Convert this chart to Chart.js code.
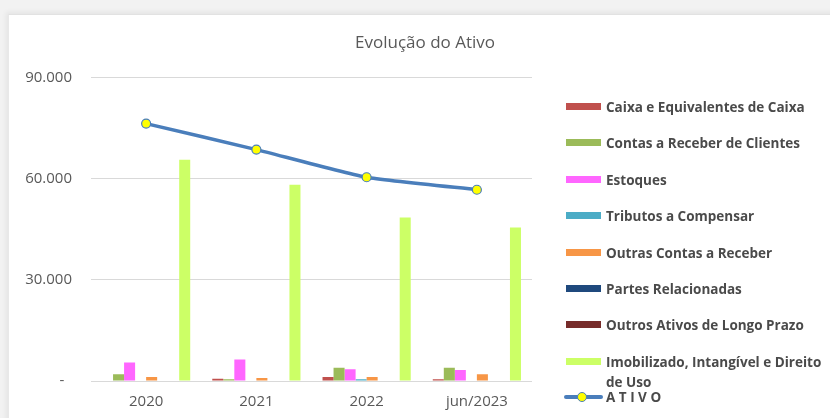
<!DOCTYPE html>
<html>
<head>
<meta charset="utf-8">
<title>Evolução do Ativo</title>
<script src="https://cdn.jsdelivr.net/npm/chart.js@4.4.0/dist/chart.umd.min.js"></script>
<style>
  html, body { margin: 0; padding: 0; }
  body {
    width: 830px; height: 418px; overflow: hidden; position: relative;
    background: #f2f2f2; font-family: "Open Sans", sans-serif;
  }
  #moldura {
    position: absolute; left: 8px; top: 14px; width: 840px; height: 420px;
    background: #fff; border-top: 1px solid #e2e2e2; border-left: 1px solid #e8e8e8;
    box-shadow: -2px -2px 5px rgba(0,0,0,0.06);
  }
  #area { position: absolute; left: 0; top: 0; width: 830px; height: 418px; }
  #legenda { position: absolute; left: 0; top: 0; }
  .item {
    position: absolute; left: 566px; height: 20px; white-space: nowrap;
    font-size: 13.5px; font-weight: 700; color: #4a4a4a; line-height: 20px;
  }
  .caixa { position: absolute; left: 0; top: 6px; width: 35px; height: 7px; }
  .texto { position: absolute; left: 40px; top: 0; }
  .linha { position: absolute; left: -2px; top: 8px; width: 39px; height: 4px; background: #4a7ebb; border-radius: 2px; }
  .ponto { position: absolute; left: 11px; top: 5px; width: 8px; height: 8px; border-radius: 50%; background: #ffff00; border: 1px solid #4a7ebb; }
</style>
</head>
<body>
<div id="moldura"></div>
<div id="area"><canvas id="grafico" width="830" height="418"></canvas></div>
<div id="legenda"></div>
<script>
var periodos = ['2020', '2021', '2022', 'jun/2023'];

var caixaEquivalentes = [0, 700, 1200, 500];
var contasReceberClientes = [2000, 500, 3900, 3900];
var estoques = [5450, 6400, 3450, 3250];
var tributosCompensar = [0, 0, 500, 0];
var outrasContasReceber = [1200, 900, 1200, 2000];
var partesRelacionadas = [0, 0, 0, 0];
var outrosAtivosLP = [0, 0, 0, 0];
var imobilizado = [65600, 58200, 48500, 45500];
var ativoTotal = [76300, 68600, 60400, 56700];

var yTicks = [0, 30000, 60000, 90000];

var series = [
    { nome: 'Caixa e Equivalentes de Caixa', dados: caixaEquivalentes, cor: '#c0504d' },
    { nome: 'Contas a Receber de Clientes', dados: contasReceberClientes, cor: '#9bbb59' },
    { nome: 'Estoques', dados: estoques, cor: '#ff66ff' },
    { nome: 'Tributos a Compensar', dados: tributosCompensar, cor: '#4bacc6' },
    { nome: 'Outras Contas a Receber', dados: outrasContasReceber, cor: '#f79646' },
    { nome: 'Partes Relacionadas', dados: partesRelacionadas, cor: '#1f497d' },
    { nome: 'Outros Ativos de Longo Prazo', dados: outrosAtivosLP, cor: '#772c2a' },
    { nome: 'Imobilizado, Intangível e Direito de Uso', dados: imobilizado, cor: '#ccff66' }
];

var corTexto = '#595959';
var fonteEixo = { family: '"Open Sans", sans-serif', size: 15 };

var datasets = series.map(function (s) {
    return {
        type: 'bar',
        label: s.nome,
        data: s.dados,
        backgroundColor: s.cor,
        categoryPercentage: 0.8,
        barPercentage: 1.0,
        order: 1
    };
});
datasets.push({
    type: 'line',
    label: 'A T I V O',
    data: ativoTotal,
    borderColor: '#4a7ebb',
    borderWidth: 3.5,
    tension: 0.15,
    pointRadius: 4.5,
    pointBackgroundColor: '#ffff00',
    pointBorderColor: '#4a7ebb',
    pointBorderWidth: 1.2,
    order: 0
});

var ctx = document.getElementById('grafico');
var grafico = new Chart(ctx, {
    type: 'bar',
    data: { labels: periodos, datasets: datasets },
    options: {
        responsive: false,
        animation: false,
        layout: { padding: { left: 20, top: 14, right: 0, bottom: 0 } },
        plugins: {
            legend: { display: false },
            tooltip: { enabled: false },
            title: {
                display: true,
                text: 'Evolução do Ativo',
                color: corTexto,
                font: { family: '"Open Sans", sans-serif', size: 17, weight: 'normal' },
                padding: { top: 19, bottom: 24 }
            }
        },
        scales: {
            x: {
                grid: { display: false },
                border: { display: false },
                ticks: { color: corTexto, font: fonteEixo, padding: 4, maxRotation: 0 },
                afterFit: function (s) { s.height = 37; }
            },
            y: {
                min: 0,
                max: 90000,
                afterBuildTicks: function (s) {
                    s.ticks = yTicks.map(function (v) { return { value: v }; });
                },
                grid: { color: '#d9d9d9', lineWidth: 1, drawTicks: false },
                border: { display: false },
                ticks: {
                    color: corTexto,
                    font: fonteEixo,
                    padding: 19,
                    callback: function (v) {
                        if (v === 0) return '-  ';
                        return v.toLocaleString('pt-BR');
                    }
                },
                afterFit: function (s) { s.width = 71; }
            },
            reserva: {
                type: 'linear',
                axis: 'y',
                position: 'right',
                display: true,
                grid: { display: false },
                border: { display: false },
                ticks: { display: false },
                afterFit: function (s) { s.width = 298; }
            }
        }
    }
});

// legenda ao lado, montada a partir das séries
var legenda = document.getElementById('legenda');
var topo = 97;
var passo = 36.4;
series.forEach(function (s, i) {
    var item = document.createElement('div');
    item.className = 'item';
    item.style.top = (topo + i * passo) + 'px';
    var caixa = document.createElement('div');
    caixa.className = 'caixa';
    caixa.style.background = s.cor;
    var texto = document.createElement('div');
    texto.className = 'texto';
    texto.innerHTML = s.nome.replace('Direito de Uso', 'Direito<br>de Uso');
    item.appendChild(caixa);
    item.appendChild(texto);
    legenda.appendChild(item);
});
var itemAtivo = document.createElement('div');
itemAtivo.className = 'item';
itemAtivo.style.top = '387px';
itemAtivo.innerHTML = '<div class="linha"></div><div class="ponto"></div><div class="texto">A T I V O</div>';
legenda.appendChild(itemAtivo);
</script>
</body>
</html>
